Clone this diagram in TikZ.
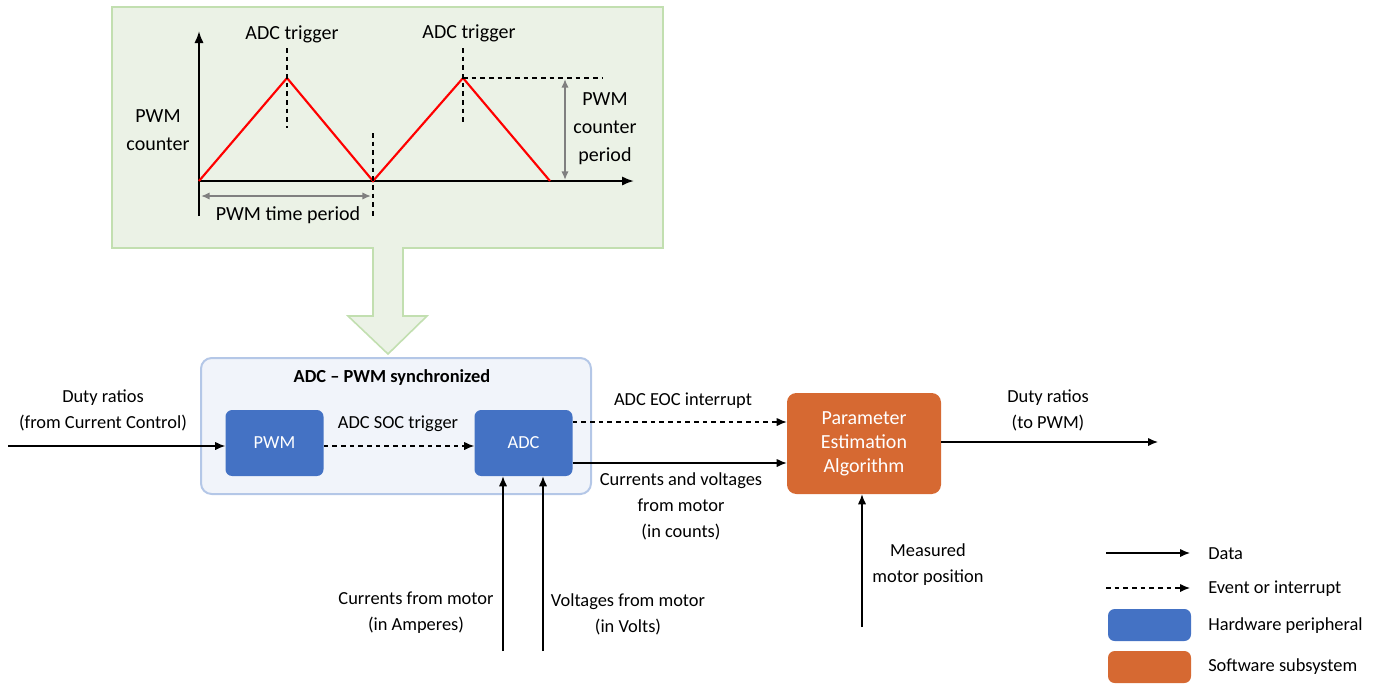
\documentclass[tikz,border=0pt]{standalone}
\usepackage{fontspec}
\setmainfont{Carlito}
\usepackage{xcolor}
\usetikzlibrary{arrows.meta,positioning}
\definecolor{hwblue}{HTML}{4472C4}
\definecolor{sworange}{HTML}{D66932}
\definecolor{syncfill}{HTML}{F1F4FA}
\definecolor{syncline}{HTML}{B4C7E7}
\definecolor{plotfill}{HTML}{EBF2E6}
\definecolor{plotline}{HTML}{C2DFB0}
\newcommand{\lblfont}{\fontsize{13.8}{19.5}\selectfont}
\newcommand{\plotfont}{\fontsize{15}{21}\selectfont}

\begin{document}
\begin{tikzpicture}[x=0.75pt, y=-0.75pt, >={Latex[length=7.5pt,width=6.2pt]},
	every node/.style={inner sep=0pt, font=\lblfont},
	lbl/.style={align=center},
	plotlbl/.style={align=center, font=\plotfont},
	hwbox/.style={fill=hwblue, rounded corners=5pt, text=white,
		minimum width=73.5pt, minimum height=49.5pt},
	swbox/.style={fill=sworange, rounded corners=7pt, text=white, align=center,
		font=\fontsize{15}{18}\selectfont, minimum width=115.5pt, minimum height=75.75pt},
	data/.style={->, line width=0.9pt},
	evt/.style={->, line width=0.9pt, dash pattern=on 3.5pt off 3pt},
	gridline/.style={line width=0.9pt, dash pattern=on 3.5pt off 3pt},
	axis/.style={-{Latex[length=9pt,width=7pt]}, line width=1.6pt},
	dim/.style={{Latex[length=6.5pt,width=5.5pt]}-{Latex[length=6.5pt,width=5.5pt]}, gray, line width=1.2pt}]
	\useasboundingbox (0,0) rectangle (1376,683);

	% PWM counter plot
	\node[draw=plotline, fill=plotfill, line width=1.2pt, minimum width=413.25pt,
	minimum height=180.75pt] (plot) at (387.5,127.5) {};
	\filldraw[draw=plotline, fill=plotfill, line width=1.2pt]
	(373,247) -- (373,316) -- (348,316) -- (388,354) -- (427,316) -- (403,316) -- (403,247);
	\draw[axis] (199,216) -- (199,31);
	\draw[axis] (198,181) -- (634,181);
	\draw[red, line width=1.6pt, line join=miter] (199,181) -- (287,78) -- (373,181) -- (463,78) -- (550,181);
	\draw[gridline] (287,48) -- (287,128);
	\draw[gridline] (463,48) -- (463,125);
	\draw[gridline] (373,133) -- (373,216);
	\draw[gridline] (463,78) -- (603,78);
	\draw[dim] (565,79) -- (565,180);
	\draw[dim] (201,196) -- (371,196);
	\node[plotlbl] (trig1) at (292,34) {ADC trigger};
	\node[plotlbl] (trig2) at (469,33) {ADC trigger};
	\node[plotlbl] (cnt) at (158,130) {PWM\\counter};
	\node[plotlbl] (cntper) at (605,129) {PWM\\counter\\period};
	\node[plotlbl] (tper) at (288,215) {PWM time period};

	% ADC - PWM synchronized block
	\node[draw=syncline, fill=syncfill, line width=1.5pt, rounded corners=8pt,
	minimum width=292.5pt, minimum height=102pt] (sync) at (396,426) {};
	\node[font=\lblfont\bfseries] (synctitle) at (392,377) {ADC -- PWM synchronized};
	\node[hwbox] (pwm) at (274.5,443) {PWM};
	\node[hwbox] (adc) at (523.5,443) {ADC};
	\node[swbox] (est) at (864,443.5) {Parameter\\Estimation\\Algorithm};

	% free ends
	\coordinate (dutyin) at (8,446);
	\coordinate (dutyout) at (1158,442);
	\coordinate (curin) at (503,651);
	\coordinate (voltin) at (543,651);
	\coordinate (posin) at (862,627);

	\draw[data] (dutyin) -- (dutyin -| pwm.west);
	\draw[evt] (pwm.east |- 0,446) -- (adc.west |- 0,446);
	\draw[evt] (adc.east |- 0,422) -- (est.west |- 0,422);
	\draw[data] (adc.east |- 0,463) -- (est.west |- 0,463);
	\draw[data] (est.east |- dutyout) -- (dutyout);
	\draw[data] (curin) -- (curin |- adc.south);
	\draw[data] (voltin) -- (voltin |- adc.south);
	\draw[data] (posin) -- (posin |- est.south);

	\node[lbl] (dutyinlbl) at (103,410) {Duty ratios\\(from Current Control)};
	\node[lbl] (soclbl) at (398,424) {ADC SOC trigger};
	\node[lbl] (eoclbl) at (683,401) {ADC EOC interrupt};
	\node[lbl] (countslbl) at (681,506) {Currents and voltages\\from motor\\(in counts)};
	\node[lbl] (dutyoutlbl) at (1048,410) {Duty ratios\\(to PWM)};
	\node[lbl] (poslbl) at (928,565) {Measured\\motor position};
	\node[lbl] (curlbl) at (416,613) {Currents from motor\\(in Amperes)};
	\node[lbl] (voltlbl) at (628,614) {Voltages from motor\\(in Volts)};

	% legend
	\coordinate (lgdataa) at (1106,553);
	\coordinate (lgdatab) at (1190,553);
	\coordinate (lgevta) at (1106,588);
	\coordinate (lgevtb) at (1190,588);
	\draw[data] (lgdataa) -- (lgdatab);
	\draw[evt] (lgevta) -- (lgevtb);
	\node[hwbox, minimum width=62.25pt, minimum height=24pt] (lghw) at (1149.5,625) {};
	\node[swbox, rounded corners=5pt, minimum width=62.25pt, minimum height=24pt] (lgsw) at (1149.5,667) {};
	\node[anchor=west] (lgdata) at (1208,554) {Data};
	\node[anchor=west] (lgevt) at (1208,589) {Event or interrupt};
	\node[anchor=west] (lghwtxt) at (1208,626) {Hardware peripheral};
	\node[anchor=west] (lgswtxt) at (1208,667) {Software subsystem};
\end{tikzpicture}
\end{document}
